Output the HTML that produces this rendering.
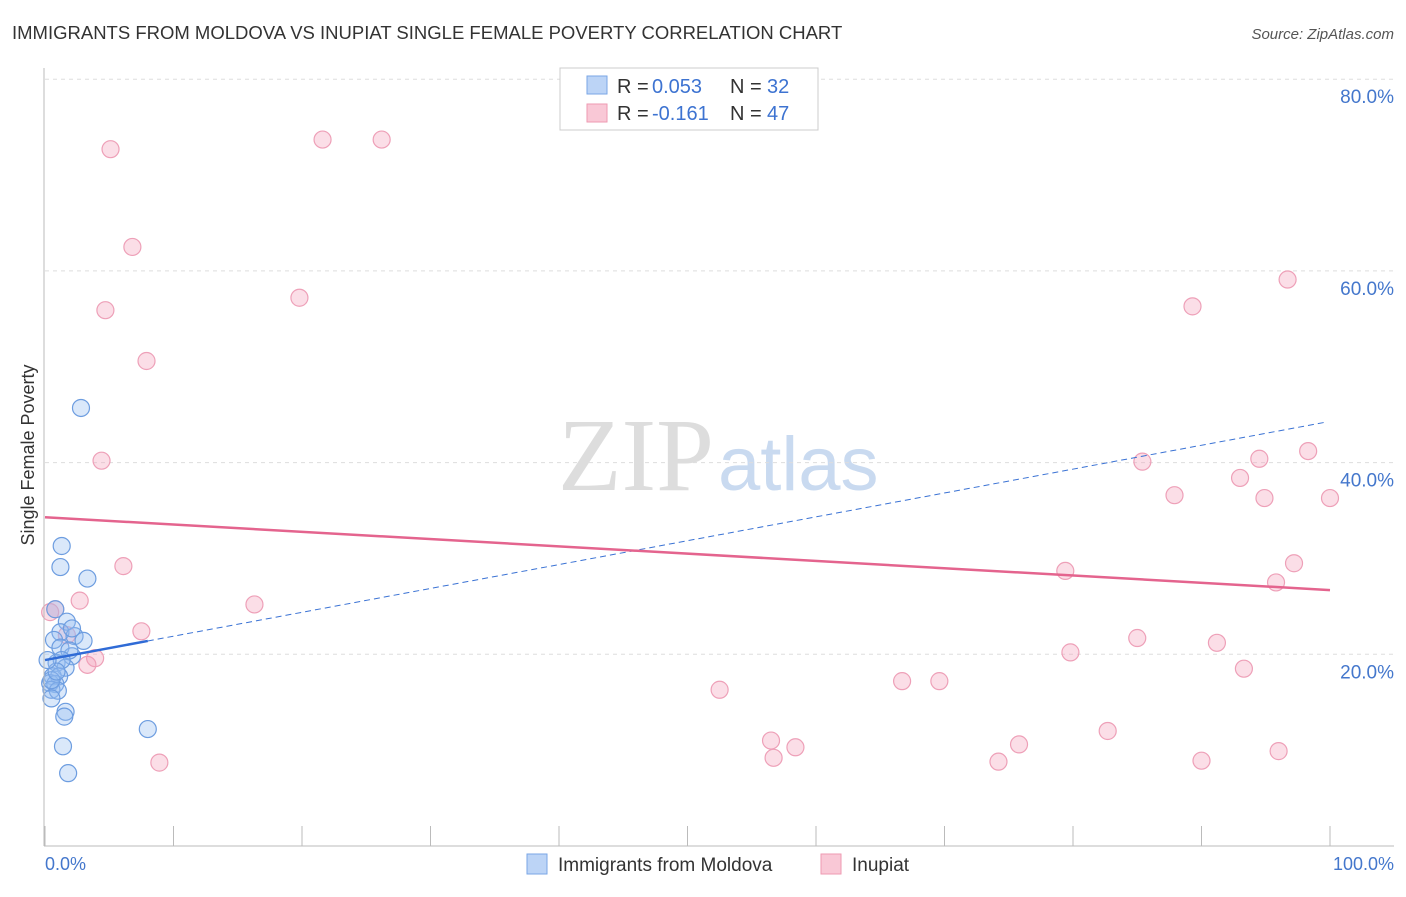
<!DOCTYPE html>
<html><head><meta charset="utf-8"><style>
body{margin:0;background:#fff;font-family:"Liberation Sans",sans-serif}
</style></head><body>
<svg width="1406" height="892" xmlns="http://www.w3.org/2000/svg" id="svg">
<text x="12" y="39" font-size="18.5" fill="#333">IMMIGRANTS FROM MOLDOVA VS INUPIAT SINGLE FEMALE POVERTY CORRELATION CHART</text>
<text x="1394" y="39" font-size="15" fill="#555" font-style="italic" text-anchor="end">Source: ZipAtlas.com</text>
<text x="714" y="490" font-size="104" fill="#ddd" text-anchor="end" font-family="Liberation Serif,serif">ZIP</text>
<text x="718" y="490" font-size="76" fill="#c9daf0">atlas</text>
<text transform="translate(34,455) rotate(-90)" font-size="18" fill="#333" text-anchor="middle">Single Female Poverty</text>
<g id="grid"></g><g id="pts"></g><g id="trend"></g>
<line x1="44" y1="68" x2="44" y2="846" stroke="#bbb"/>
<line x1="44" y1="846" x2="1394" y2="846" stroke="#bbb"/>
<text x="45" y="870" font-size="18" fill="#4477cc">0.0%</text>
<text x="1394" y="870" font-size="18" fill="#4477cc" text-anchor="end">100.0%</text>
<g>
<rect x="560" y="68" width="258" height="62" fill="#fff" stroke="#ccc"/>
<rect x="587" y="76" width="20" height="18" fill="#bcd4f6" stroke="#7aa6e6"/>
<rect x="587" y="104" width="20" height="18" fill="#f9c8d6" stroke="#ee9ab2"/>
<text x="617" y="93" font-size="20" fill="#333">R =</text>
<text x="652" y="93" font-size="20" fill="#3d73d1">0.053</text>
<text x="730" y="93" font-size="20" fill="#333">N =</text>
<text x="767" y="93" font-size="20" fill="#3d73d1">32</text>
<text x="617" y="120" font-size="20" fill="#333">R =</text>
<text x="652" y="120" font-size="20" fill="#3d73d1">-0.161</text>
<text x="730" y="120" font-size="20" fill="#333">N =</text>
<text x="767" y="120" font-size="20" fill="#3d73d1">47</text>
</g>
<g>
<rect x="527" y="854" width="20" height="20" fill="#bcd4f6" stroke="#7aa6e6"/>
<text x="558" y="871" font-size="19" fill="#333">Immigrants from Moldova</text>
<rect x="821" y="854" width="20" height="20" fill="#f9c8d6" stroke="#ee9ab2"/>
<text x="852" y="871" font-size="19" fill="#333">Inupiat</text>
</g>
</svg>
<script>
const blueX=[2.8,1.3,1.2,3.3,0.8,1.7,1.2,2.3,3.0,0.7,1.2,2.1,0.9,1.6,0.6,1.1,0.4,0.8,0.5,1.0,0.5,1.6,1.5,1.4,1.8,8.0,1.9,1.3,0.5,0.9,2.1,0.2];
const blueY=[45.7,31.3,29.1,27.9,24.7,23.4,22.3,21.9,21.4,21.5,20.7,19.8,19.1,18.6,17.7,17.7,17.0,16.9,16.3,16.2,15.4,14.0,13.5,10.4,7.6,12.2,20.4,19.4,17.3,18.2,22.7,19.4];
const pinkX=[5.1,21.6,26.2,6.8,19.8,4.7,7.9,4.4,6.1,2.7,16.3,0.8,7.5,1.7,3.9,3.3,8.9,0.4,52.5,56.5,56.7,58.4,66.7,69.6,74.2,75.8,79.4,79.8,82.7,85.0,85.4,87.9,89.3,90.0,91.2,93.0,93.3,94.5,94.9,95.8,96.0,96.7,97.2,98.3,100];
const pinkY=[72.7,73.7,73.7,62.5,57.2,55.9,50.6,40.2,29.2,25.6,25.2,24.7,22.4,22.0,19.6,18.9,8.7,24.4,16.3,11.0,9.2,10.3,17.2,17.2,8.8,10.6,28.7,20.2,12.0,21.7,40.1,36.6,56.3,8.9,21.2,38.4,18.5,40.4,36.3,27.5,9.9,59.1,29.5,41.2,36.3];
const yTicks=[20,40,60,80];
const blueTrend=[19.4,44.3];
const pinkTrend=[34.3,26.7];
const xTicks=[0,10,20,30,40,50,60,70,80,90,100];
const NS="http://www.w3.org/2000/svg";
const sx=v=>45+v*12.85, sy=v=>846-v*9.585;
function mk(t,a,p){const e=document.createElementNS(NS,t);for(const k in a)e.setAttribute(k,a[k]);document.getElementById(p).appendChild(e);return e;}
yTicks.forEach(t=>{
 const l=mk('line',{x1:45,x2:1394,y1:sy(t),y2:sy(t),stroke:'#ddd','stroke-dasharray':'4,4'},'grid');
 
 
 const tx=mk('text',{x:1394,y:sy(t)+24,'font-size':19,fill:'#4477cc','text-anchor':'end'},'grid');
 tx.textContent=t.toFixed(1)+'%';
 
 
});
xTicks.forEach(t=>{
 const l=mk('line',{x1:sx(t),x2:sx(t),y1:826,y2:846,stroke:'#bbb'},'grid');
 
 
});
pinkX.forEach((x,i)=>{
 const c=mk('circle',{cx:sx(x),cy:sy(pinkY[i]),r:8.5,fill:'rgba(244,160,186,0.35)',stroke:'#eea0b8','stroke-width':1.2},'pts');
 
 
});
blueX.forEach((x,i)=>{
 const c=mk('circle',{cx:sx(x),cy:sy(blueY[i]),r:8.5,fill:'rgba(150,190,240,0.35)',stroke:'#6d9de0','stroke-width':1.2},'pts');
 
 
});
const bAt=x=>blueTrend[0]+(blueTrend[1]-blueTrend[0])*x/100;
let l=mk('line',{x1:sx(8),y1:sy(bAt(8)),x2:sx(99.8),y2:sy(bAt(99.8)),stroke:'#3a72d4','stroke-width':1,'stroke-dasharray':'6,4'},'trend');


l=mk('line',{x1:sx(0),y1:sy(bAt(0)),x2:sx(8),y2:sy(bAt(8)),stroke:'#2f6bd6','stroke-width':2.5},'trend');


l=mk('line',{x1:sx(0),y1:sy(pinkTrend[0]),x2:sx(100),y2:sy(pinkTrend[1]),stroke:'#e4648e','stroke-width':2.5},'trend');


</script>
</body></html>
